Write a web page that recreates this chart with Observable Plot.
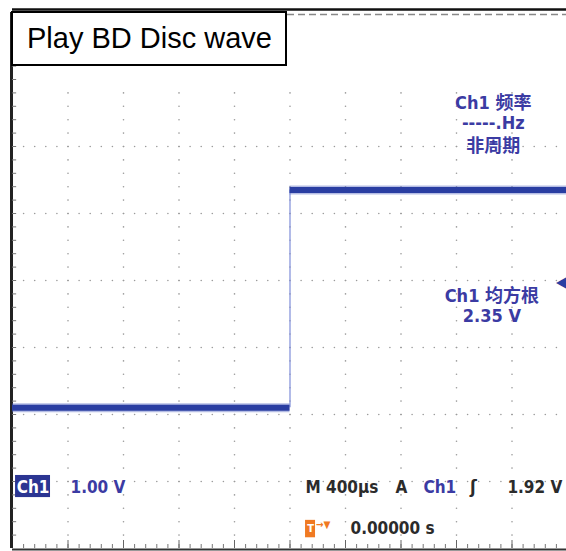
<!DOCTYPE html>
<html><head><meta charset="utf-8">
<script src="https://cdn.jsdelivr.net/npm/d3@7"></script>
<script src="https://cdn.jsdelivr.net/npm/@observablehq/plot@0.6"></script>
<style>
html,body{margin:0;padding:0;background:#fff;}
#wrap{position:relative;width:566px;height:551px;overflow:hidden;}
#title{position:absolute;left:11px;top:11px;width:258px;height:51px;border:2px solid #000;background:#fff;
  font-family:"Liberation Sans",Arial,Helvetica,sans-serif;font-size:29px;line-height:50px;padding-left:14px;color:#000;}
</style></head><body>
<div id="wrap"><div id="chart"></div><div id="title">Play BD Disc wave</div></div>
<script>
// ---- data (time in µs, voltage in V) ----
const timeDomain = [-2000, 2000];      // 10 divisions × 400 µs
const usPerDiv = 400;
const voltsPerDiv = 1.00;
const screenCenterV = 1.9;             // voltage at the centre graticule line
const segStart = [-2000, 0];
const segEnd   = [0, 2000];
const segLevel = [0.0, 3.25];          // low / high level of the square wave
const edgeTime = [0];
const edgeLow  = [0.0];
const edgeHigh = [3.25];
const triggerLevel = [1.92];
const freqLabels = ["Ch1 频率", "-----.Hz", "非周期"];
const rmsLabels  = ["Ch1 均方根", "2.35 V"];
const chLabel = ["Ch1"];
const scaleLabel = ["1.00 V"];
const timebaseLabels = ["M 400µs", "A"];
const trigSrc = ["Ch1"];
const trigSlope = ["ʃ"];
const trigLevelLabel = ["1.92 V"];
const trigPosLabel = ["0.00000 s"];

// ---- graticule helpers ----
const vLo = screenCenterV - 4 * voltsPerDiv, vHi = screenCenterV + 4 * voltsPerDiv;
const vLineDots = d3.range(1, 10).flatMap(k => d3.range(-19, 15).map(j => ({t: timeDomain[0] + k * usPerDiv, v: screenCenterV + j / 5 * voltsPerDiv})));
const hLineDots = d3.range(-3, 3).flatMap(d => d3.range(1, 50).map(i => ({t: timeDomain[0] + i * usPerDiv / 5, v: screenCenterV + d * voltsPerDiv})));
const leftTicks = d3.range(-19, 20).map(j => screenCenterV + j / 5 * voltsPerDiv);
const bottomTicks = d3.range(1, 50).map(i => timeDomain[0] + i * usPerDiv / 5);
const bottomMajor = d3.range(1, 10).map(k => timeDomain[0] + k * usPerDiv);

const blue = "#3b3ba3";
const dark = "#2b2b2b";
const orange = "#f07a22";
const fontF = "'DejaVu Sans Condensed','Liberation Sans Narrow','Noto Sans CJK SC',sans-serif";
const tickLen = 4 / 67;

const chart = Plot.plot({
  width: 566, height: 551,
  marginLeft: 12, marginRight: -1, marginTop: 12, marginBottom: 3,
  x: {domain: timeDomain, range: [12, 567], axis: null},
  y: {domain: [vLo, vHi], range: [548, 12], axis: null},
  style: {fontFamily: fontF, background: "#fff"},
  marks: [
    Plot.dot(vLineDots, {x: "t", y: "v", r: 0.8, fill: "#9a9a9a", stroke: null}),
    Plot.dot(hLineDots, {x: "t", y: "v", r: 0.8, fill: "#9a9a9a", stroke: null}),
    // borders
    Plot.ruleY([vHi], {stroke: "#111", strokeWidth: 2.5, dy: -3}),
    Plot.ruleY([vHi], {stroke: "#888", strokeWidth: 1.5, dy: 2, strokeDasharray: "7,4"}),
    Plot.ruleX([timeDomain[0]], {stroke: "#222", strokeWidth: 3, dx: -1}),
    Plot.ruleY([vLo], {stroke: "#333", strokeWidth: 2, dy: 1}),
    Plot.ruleY(leftTicks, {y: d => d, x1: timeDomain[0], x2: timeDomain[0] + 30, stroke: "#777", strokeWidth: 1}),
    Plot.ruleX(bottomTicks, {x: d => d, y1: vLo, y2: vLo + tickLen, stroke: "#777", strokeWidth: 1}),
    Plot.ruleX(bottomMajor, {x: d => d, y1: vLo, y2: vLo + 2 * tickLen, stroke: "#666", strokeWidth: 1}),
    // waveform
    Plot.ruleX(edgeTime, {x: d => d, y1: edgeLow, y2: edgeHigh, stroke: "#8896dc", strokeWidth: 1.3}),
    Plot.ruleY(segLevel, {y: d => d, x1: segStart, x2: segEnd, stroke: "#5a6cc4", strokeWidth: 9, strokeOpacity: 0.45}),
    Plot.ruleY(segLevel, {y: d => d, x1: segStart, x2: segEnd, stroke: "#2a3ea2", strokeWidth: 6}),
    // trigger level arrow
    Plot.text(triggerLevel, {x: timeDomain[1], y: d => d, text: ["◀"], textAnchor: "end", dx: -1, dy: 3, fill: "#2a3ea2", fontSize: 15}),
    // readouts
    Plot.text(freqLabels, {x: 1465, y: [4.54, 4.25, 3.91], text: d => d, fill: blue, fontSize: 18, fontWeight: "bold", textAnchor: "middle"}),
    Plot.text(rmsLabels, {x: 1455, y: [1.67, 1.37], text: d => d, fill: blue, fontSize: 18, fontWeight: "bold", textAnchor: "middle"}),
    // bottom readouts
    Plot.rect(chLabel, {x1: -1978, x2: -1726, y1: -1.01, y2: -1.34, fill: "#2b3592"}),
    Plot.text(chLabel, {x: -1852, y: -1.19, text: d => d, fill: "#fff", fontSize: 17, fontWeight: "bold", textAnchor: "middle"}),
    Plot.text(scaleLabel, {x: -1582, y: -1.19, text: d => d, fill: blue, fontSize: 17, fontWeight: "bold", textAnchor: "start"}),
    Plot.text(timebaseLabels, {x: [112, 760], y: -1.19, text: d => d, fill: dark, fontSize: 17, fontWeight: "bold", textAnchor: "start"}),
    Plot.text(trigSrc, {x: 962, y: -1.19, text: d => d, fill: blue, fontSize: 17, fontWeight: "bold", textAnchor: "start"}),
    Plot.text(trigSlope, {x: 1322, y: -1.19, text: d => d, fill: dark, fontSize: 18, fontWeight: "bold", textAnchor: "middle"}),
    Plot.text(trigLevelLabel, {x: 1567, y: -1.19, text: d => d, fill: dark, fontSize: 17, fontWeight: "bold", textAnchor: "start"}),
    Plot.rect(["T"], {x1: 112, x2: 184, y1: -1.68, y2: -1.94, fill: orange}),
    Plot.text(["T"], {x: 148, y: -1.80, text: d => d, fill: "#fff", fontSize: 11, fontWeight: "bold", textAnchor: "middle"}),
    Plot.text(["→▼"], {x: 188, y: -1.75, text: d => d, fill: orange, fontSize: 10, fontWeight: "bold", textAnchor: "start"}),
    Plot.text(trigPosLabel, {x: 436, y: -1.80, text: d => d, fill: dark, fontSize: 17, fontWeight: "bold", textAnchor: "start"})
  ]
});
document.getElementById("chart").appendChild(chart);
</script>
</body></html>
